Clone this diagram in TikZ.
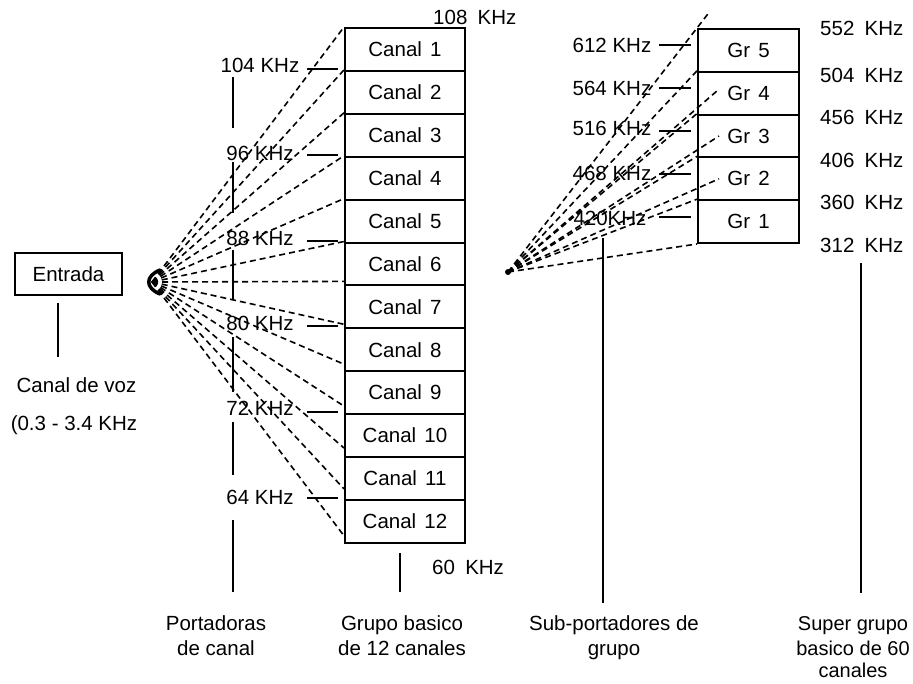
\documentclass[tikz,border=0pt]{standalone}
\usepackage{fontspec}
\setmainfont{Liberation Sans}
\usetikzlibrary{calc}
\begin{document}
\begin{tikzpicture}[x=1pt,y=-1pt,
  fnt/.style={font=\fontsize{20.5}{24}\selectfont},
  txt/.style={fnt, inner sep=0pt, anchor=base},
  txtw/.style={txt, anchor=base west},
  chbox/.style={fnt, draw, line width=2pt, minimum width=120pt, minimum height=42.9pt, inner sep=0pt},
  grbox/.style={fnt, draw, line width=2pt, minimum width=101pt, minimum height=42.8pt, inner sep=0pt},
  dl/.style={dash pattern=on 6pt off 4pt, line width=1.6pt},
  sl/.style={line width=2pt}]
\useasboundingbox (0,0) rectangle (913,683);
% Entrada
\node[fnt, draw, line width=2pt, minimum width=107pt, minimum height=42pt, inner sep=0pt] (ent) at (68.5,274) {Entrada};
\coordinate (entA) at (58,303);
\coordinate (entB) at (58,357);
\draw[sl] (entA) -- (entB);
\node[txt] (voz) at (76.5,392) {Canal de voz};
\node[txt] (rng) at (74,430) {(0.3 - 3.4 KHz};
% channel boxes
\foreach \i in {1,...,12}
  \node[chbox] (c\i) at (405,{28+42.9*(\i-0.5)}) {Canal\hspace{0.4em}\i\hspace{6pt}};
% group boxes
\foreach \i in {1,...,5}
  \node[grbox] (g\i) at (748.5,{29+42.8*(5-\i)+21.4}) {Gr\hspace{0.4em}\i};
% left fan
\coordinate (fanL) at (152,282);
\foreach \t in {c1,c2,c3,c4,c5,c6}
  \draw[dl] (fanL) -- (\t.north west);
\draw[dl] (fanL) -- ($(c7.north west)+(0,-3)$);
\draw[dl] (fanL) -- ($(c7.south west)+(0,-5)$);
\draw[dl] (fanL) -- ($(c8.south west)+(0,-8)$);
\draw[dl] (fanL) -- ($(c9.south west)+(0,-9)$);
\draw[dl] (fanL) -- ($(c10.south west)+(0,-10)$);
\draw[dl] (fanL) -- ($(c11.south west)+(0,-12)$);
\draw[dl] (fanL) -- ($(c12.south west)+(0,-8)$);
\draw[line width=3.5pt, line cap=round] ($(fanL)+(8,-12)$) .. controls ($(fanL)+(-7,-6)$) and ($(fanL)+(-7,6)$) .. ($(fanL)+(8,12)$);
% left frequency labels
\node[txt] (k104) at (260,72) {104 KHz};
\node[txt] (k96) at (260,160) {96 KHz};
\node[txt] (k88) at (260,245) {88 KHz};
\node[txt] (k80) at (260,330) {80 KHz};
\node[txt] (k72) at (260,415) {72 KHz};
\node[txt] (k64) at (260,504) {64 KHz};
\foreach \b in {c1,c3,c5,c7,c9,c11}
  \draw[sl] ($(\b.south west)+(-37,-3)$) -- ($(\b.south west)+(-6,-3)$);
% left axis segments
\coordinate (p1) at (233,77);  \coordinate (p2) at (233,128);
\coordinate (p3) at (233,162); \coordinate (p4) at (233,213);
\coordinate (p5) at (233,250); \coordinate (p6) at (233,300);
\coordinate (p7) at (233,337); \coordinate (p8) at (233,392);
\coordinate (p9) at (233,422); \coordinate (p10) at (233,475);
\coordinate (p11) at (233,520); \coordinate (p12) at (233,592);
\draw[sl] (p1) -- (p2) (p3) -- (p4) (p5) -- (p6) (p7) -- (p8) (p9) -- (p10) (p11) -- (p12);
\node[txtw] (k108) at (433,24) {108\hspace{0.5em}KHz};
\node[txtw] (k60) at (432,574) {60\hspace{0.5em}KHz};
\coordinate (gbA) at (400,553); \coordinate (gbB) at (400,592);
\draw[sl] (gbA) -- (gbB);
% right fan
\coordinate (fanR) at (508,272);
\fill (fanR) circle (3pt);
\draw[dl] (fanR) -- ($(fanR)!1.058!(g5.north west)$);
\draw[dl] (fanR) -- (g4.north west);
\draw[dl] (fanR) -- ($(g4.west)+(22,-4)$);
\draw[dl] (fanR) -- (g3.north west);
\draw[dl] (fanR) -- ($(g3.west)+(22,0)$);
\draw[dl] (fanR) -- (g2.north west);
\draw[dl] (fanR) -- ($(g2.west)+(22,0)$);
\draw[dl] (fanR) -- (g1.north west);
\draw[dl] (fanR) -- (g1.south west);
% group carrier labels
\node[txt] (k612) at (612,52) {612 KHz};
\node[txt] (k564) at (612,95) {564 KHz};
\node[txt] (k516) at (612,135) {516 KHz};
\node[txt] (k468) at (612,180) {468 KHz};
\node[txt] (k420) at (610,225) {420KHz};
\foreach \g in {g1,g2,g3,g4,g5}
  \draw[sl] ($(\g.west)+(-38,-5)$) -- ($(\g.west)+(-6,-5)$);
\coordinate (spA) at (603,238); \coordinate (spB) at (603,603);
\draw[sl] (spA) -- (spB);
% supergroup labels
\node[txtw] (k552) at (820,35) {552\hspace{0.5em}KHz};
\node[txtw] (k504) at (820,82) {504\hspace{0.5em}KHz};
\node[txtw] (k456) at (820,124) {456\hspace{0.5em}KHz};
\node[txtw] (k406) at (820,167) {406\hspace{0.5em}KHz};
\node[txtw] (k360) at (820,209) {360\hspace{0.5em}KHz};
\node[txtw] (k312) at (820,252) {312\hspace{0.5em}KHz};
\coordinate (sgA) at (861,263); \coordinate (sgB) at (861,593);
\draw[sl] (sgA) -- (sgB);
% bottom captions
\node[txt] (b1a) at (216,630) {Portadoras};
\node[txt] (b1b) at (216,655) {de canal};
\node[txt] (b2a) at (402,630) {Grupo basico};
\node[txt] (b2b) at (402,655) {de 12 canales};
\node[txt] (b3a) at (614,630) {Sub-portadores de};
\node[txt] (b3b) at (614,655) {grupo};
\node[txt, font=\fontsize{20}{24}\selectfont] (b4a) at (853,630) {Super grupo};
\node[txt, font=\fontsize{20}{24}\selectfont] (b4b) at (853,655) {basico de 60};
\node[txt, font=\fontsize{20}{24}\selectfont] (b4c) at (853,677) {canales};
\end{tikzpicture}
\end{document}
